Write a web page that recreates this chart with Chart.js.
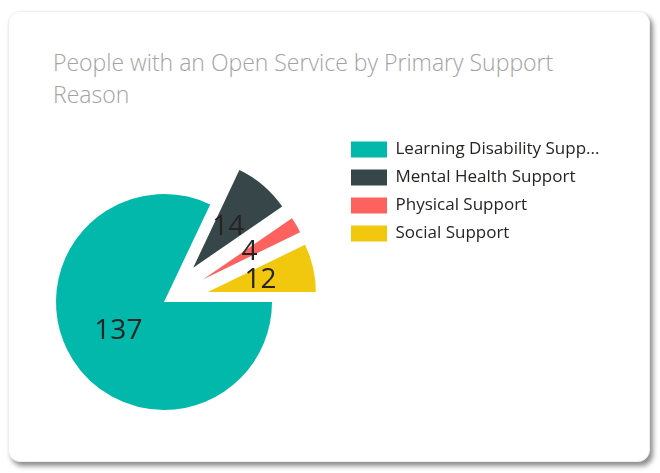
<!DOCTYPE html>
<html>
<head>
<meta charset="utf-8">
<script src="https://cdn.jsdelivr.net/npm/chart.js@4.4.0/dist/chart.umd.min.js"></script>
<style>
  html, body { margin: 0; padding: 0; width: 660px; height: 473px; overflow: hidden; background: #fff; }
  .card {
    position: absolute; left: 8px; top: 11px; width: 640px; height: 449px;
    background: #fff; border: 1px solid #efefef; border-radius: 12px;
    box-shadow: 3px 4px 5px rgba(0, 0, 0, 0.45);
  }
  .title {
    position: absolute; left: 53px; top: 46px; width: 540px;
    font-family: 'Open Sans', sans-serif; font-size: 23px; font-weight: 300;
    line-height: 32px; color: #a3a3a3;
  }
  .chart-box { position: absolute; left: -12px; top: 130px; width: 652px; height: 344px; }
</style>
</head>
<body>
<div class="card"></div>
<div class="title">People with an Open Service by Primary Support Reason</div>
<div class="chart-box"><canvas id="supportChart"></canvas></div>
<script>
var categories = ["Learning Disability Support", "Mental Health Support", "Physical Support", "Social Support"];
var people = [137, 14, 4, 12];

var sliceColors = ['#01B8AA', '#374649', '#FD625E', '#F2C80F'];
// how far each slice is pulled out from the centre (px)
var explode = [0, 45, 45, 45];

function shorten(text) {
    return text.length > 24 ? text.slice(0, 24) + '...' : text;
}

// draw each arc shifted outward along its middle angle
var explodePlugin = {
    id: 'explode',
    beforeDatasetDraw: function (chart, args) {
	var ctx = chart.ctx;
	args.meta.data.forEach(function (arc, i) {
	    var mid = (arc.startAngle + arc.endAngle) / 2;
	    var d = explode[i] || 0;
	    ctx.save();
	    ctx.translate(Math.cos(mid) * d, Math.sin(mid) * d);
	    arc.draw(ctx, chart.chartArea);
	    ctx.restore();
	});
	return false;
    }
};

// value labels in the middle of every slice
var valueLabels = {
    id: 'valueLabels',
    afterDatasetsDraw: function (chart) {
	var ctx = chart.ctx;
	var meta = chart.getDatasetMeta(0);
	ctx.save();
	ctx.font = '28px "Open Sans", sans-serif';
	ctx.fillStyle = '#252423';
	ctx.textAlign = 'center';
	ctx.textBaseline = 'middle';
	meta.data.forEach(function (arc, i) {
	    var mid = (arc.startAngle + arc.endAngle) / 2;
	    var r = (explode[i] || 0) + arc.outerRadius / 2;
	    ctx.fillText(people[i], arc.x + Math.cos(mid) * r, arc.y + Math.sin(mid) * r);
	});
	ctx.restore();
    }
};

var ctx = document.getElementById("supportChart");
var chart = new Chart(ctx, {
    type : 'pie',
    data : {
	labels : categories,
	datasets : [ {
	    data : people,
	    backgroundColor : sliceColors,
	    borderWidth : 0
	} ]
    },
    options : {
	responsive : true,
	maintainAspectRatio : false,
	animation : false,
	events : [],
	rotation : 90,
	radius : 108,
	layout : { padding : { top : 0, right : 40, bottom : 0, left : 0 } },
	plugins : {
	    tooltip : { enabled : false },
	    legend : {
		position : 'right',
		align : 'start',
		maxWidth : 260,
		labels : {
		    boxWidth : 36,
		    boxHeight : 16,
		    padding : 11,
		    color : '#252423',
		    font : { family : '"Open Sans", sans-serif', size : 17 },
		    generateLabels : function (chart) {
			var items = Chart.overrides.doughnut.plugins.legend.labels.generateLabels(chart);
			items.forEach(function (it) { it.text = shorten(it.text); });
			return items;
		    }
		}
	    }
	}
    },
    plugins : [ explodePlugin, valueLabels ]
});
</script>
</body>
</html>
